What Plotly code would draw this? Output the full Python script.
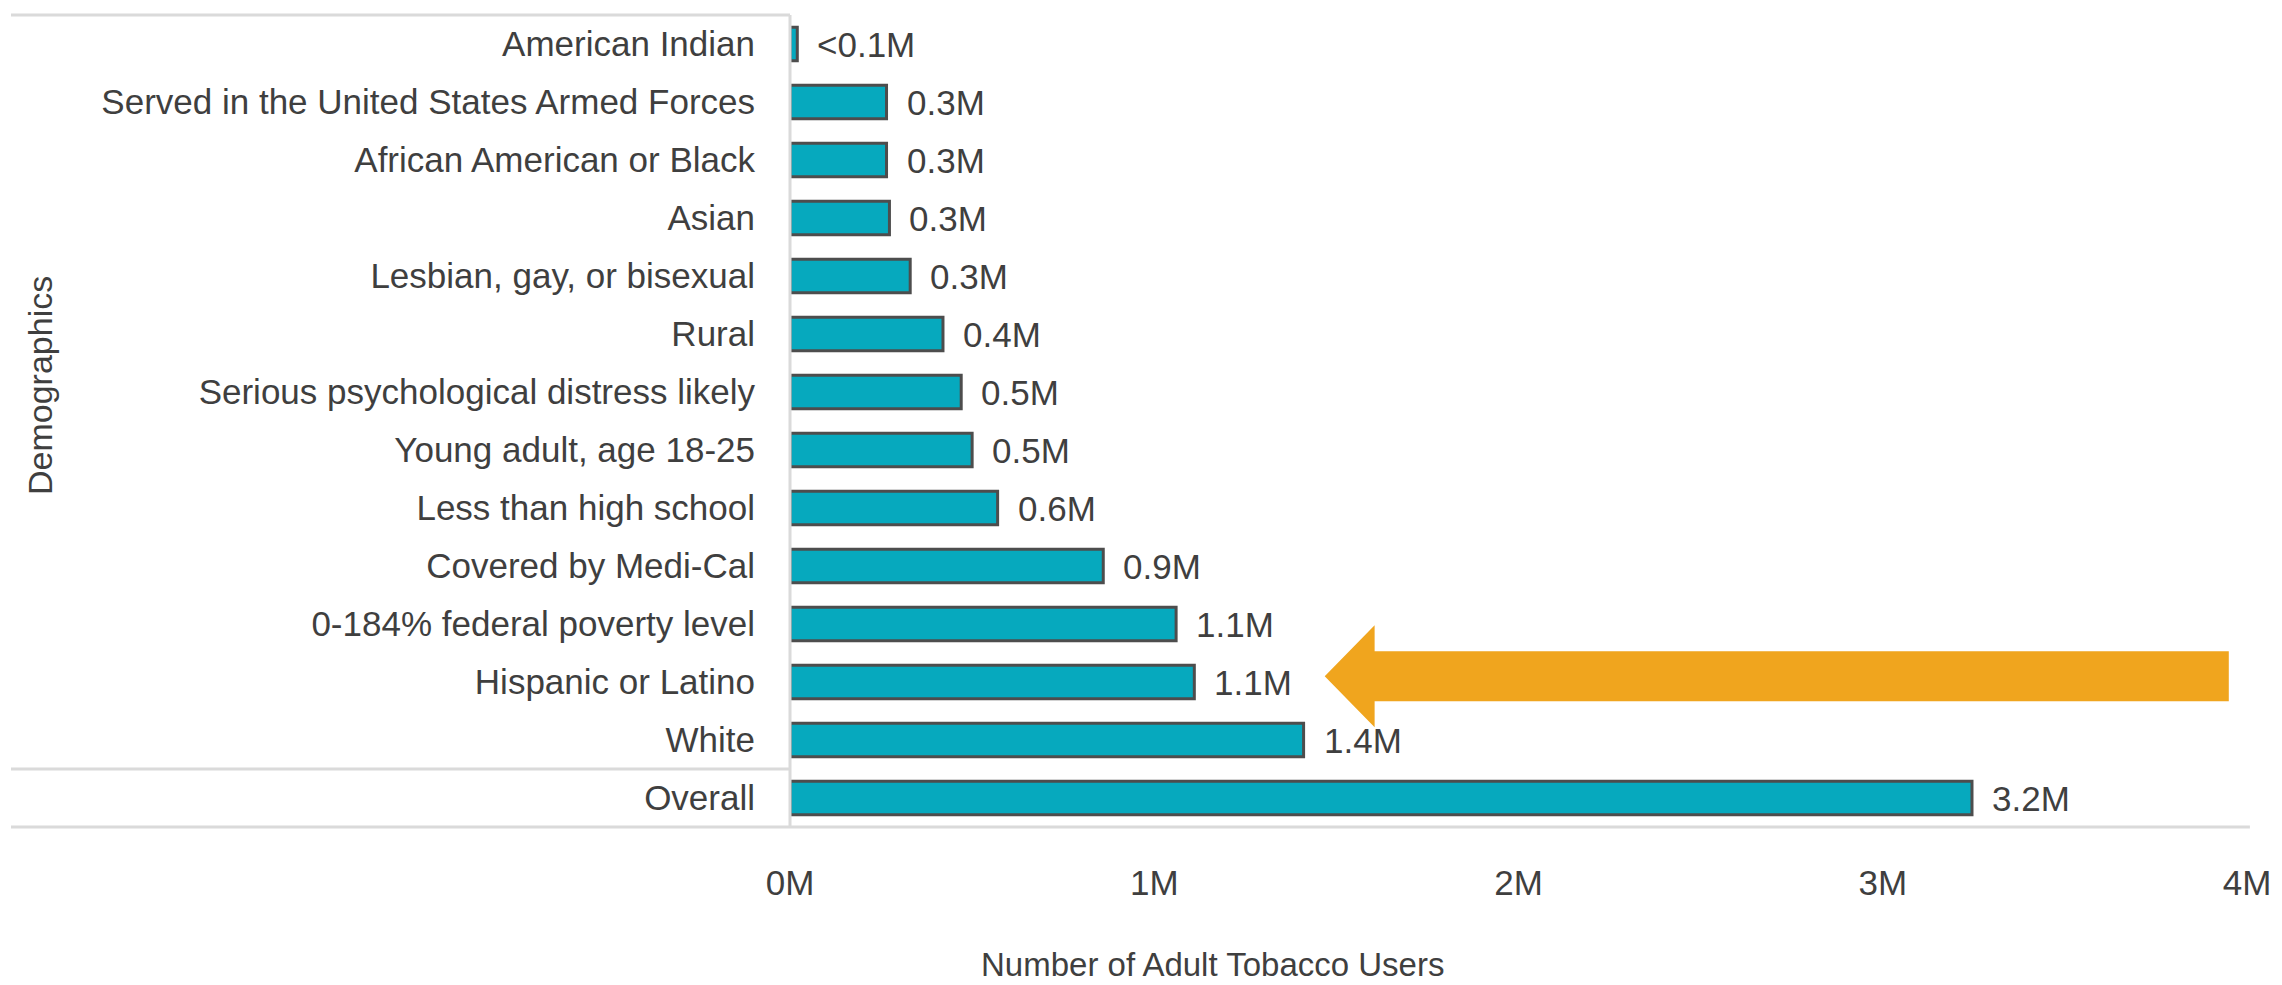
import plotly.graph_objects as go

# ---- data ----
categories = [
    "American Indian",
    "Served in the United States Armed Forces",
    "African American or Black",
    "Asian",
    "Lesbian, gay, or bisexual",
    "Rural",
    "Serious psychological distress likely",
    "Young adult, age 18-25",
    "Less than high school",
    "Covered by Medi-Cal",
    "0-184% federal poverty level",
    "Hispanic or Latino",
    "White",
    "Overall",
]
users_millions = [0.02, 0.265, 0.265, 0.273, 0.33, 0.42, 0.47, 0.50, 0.57, 0.86, 1.06, 1.11, 1.41, 3.245]
value_labels = ["<0.1M", "0.3M", "0.3M", "0.3M", "0.3M", "0.4M", "0.5M", "0.5M",
                "0.6M", "0.9M", "1.1M", "1.1M", "1.4M", "3.2M"]
x_tick_values = [0, 1, 2, 3, 4]
x_tick_labels = ["0M", "1M", "2M", "3M", "4M"]
highlight_category = "Hispanic or Latino"

# ---- styling ----
FONT = "Liberation Sans, Arial, sans-serif"
TEXT_COLOR = "#3f3f3f"
BAR_COLOR = "#06A9BE"
BAR_LINE = "#4d4d4d"
RULE_COLOR = "#dadada"
ARROW_COLOR = "#F0A51E"

# the page body has an 8px default margin; compensate so the picture lines up
OFF = 8
W, H = 2282 - OFF, 985 - OFF
plot_left, plot_right = 790 - OFF, 2247 - OFF
plot_top, plot_bottom = 15 - OFF, 827 - OFF
L, R, T, B = plot_left, W - plot_right, plot_top, H - plot_bottom
plot_w = plot_right - plot_left
plot_h = plot_bottom - plot_top


def px_x(px):
    return (px - OFF - plot_left) / plot_w


def px_y(py):
    return (plot_bottom - (py - OFF)) / plot_h


idx = list(range(len(categories)))

fig = go.Figure()
fig.add_trace(go.Bar(
    x=users_millions,
    y=idx,
    orientation="h",
    marker=dict(color=BAR_COLOR, line=dict(color=BAR_LINE, width=3)),
    hoverinfo="skip",
))

annotations = []
for v, i, lab in zip(users_millions, idx, value_labels):
    annotations.append(dict(
        x=v, y=i, xref="x", yref="y", text=lab, showarrow=False,
        xanchor="left", yanchor="middle", xshift=18,
        font=dict(family=FONT, size=35, color=TEXT_COLOR),
    ))

# axis titles placed like the original (not centered on plot)
annotations.append(dict(
    text="Number of Adult Tobacco Users", xref="paper", yref="paper",
    x=px_x(1212), y=px_y(964), showarrow=False,
    xanchor="center", yanchor="middle",
    font=dict(family=FONT, size=33, color=TEXT_COLOR),
))
annotations.append(dict(
    text="Demographics", xref="paper", yref="paper", textangle=-90,
    x=px_x(40), y=px_y(386), showarrow=False,
    xanchor="center", yanchor="middle",
    font=dict(family=FONT, size=34, color=TEXT_COLOR),
))

# rules (table-like frame)
x_left_paper = px_x(11)
n = len(categories)
shapes = [
    dict(type="line", xref="paper", yref="paper", x0=x_left_paper, x1=0, y0=1, y1=1,
         line=dict(color=RULE_COLOR, width=3)),
    dict(type="line", xref="paper", yref="y", x0=x_left_paper, x1=0, y0=n - 1.5, y1=n - 1.5,
         line=dict(color=RULE_COLOR, width=3)),
    dict(type="line", xref="paper", yref="paper", x0=x_left_paper, x1=1.002, y0=0, y1=0,
         line=dict(color=RULE_COLOR, width=3)),
    dict(type="line", xref="paper", yref="paper", x0=0, x1=0, y0=0, y1=1,
         line=dict(color=RULE_COLOR, width=3)),
]

# highlight arrow pointing at the highlighted category
hi = categories.index(highlight_category)
yc = hi - 0.1
tip_x, base_x, end_x = 1.468, 1.605, 3.95
head_h, shaft_h = 0.88, 0.43
path = (f"M {tip_x},{yc} L {base_x},{yc - head_h} L {base_x},{yc - shaft_h} "
        f"L {end_x},{yc - shaft_h} L {end_x},{yc + shaft_h} L {base_x},{yc + shaft_h} "
        f"L {base_x},{yc + head_h} Z")
shapes.append(dict(type="path", xref="x", yref="y", path=path,
                   fillcolor=ARROW_COLOR, line=dict(width=0), layer="above"))

fig.update_layout(
    width=W, height=H,
    margin=dict(l=L, r=R, t=T, b=B, pad=0),
    paper_bgcolor="white", plot_bgcolor="white",
    showlegend=False,
    bargap=0.42,
    font=dict(family=FONT, size=35, color=TEXT_COLOR),
    annotations=annotations,
    shapes=shapes,
)
fig.update_xaxes(
    range=[0, 4], tickvals=x_tick_values, ticktext=x_tick_labels,
    showgrid=False, zeroline=False, showline=False,
    ticks="", ticklabelstandoff=32,
    tickfont=dict(family=FONT, size=35, color=TEXT_COLOR),
)
fig.update_yaxes(
    range=[n - 0.5, -0.5], tickvals=idx, ticktext=categories,
    showgrid=False, zeroline=False, showline=False,
    ticks="", ticklabelstandoff=34,
    tickfont=dict(family=FONT, size=35, color=TEXT_COLOR),
)

fig.write_html("out.html")
